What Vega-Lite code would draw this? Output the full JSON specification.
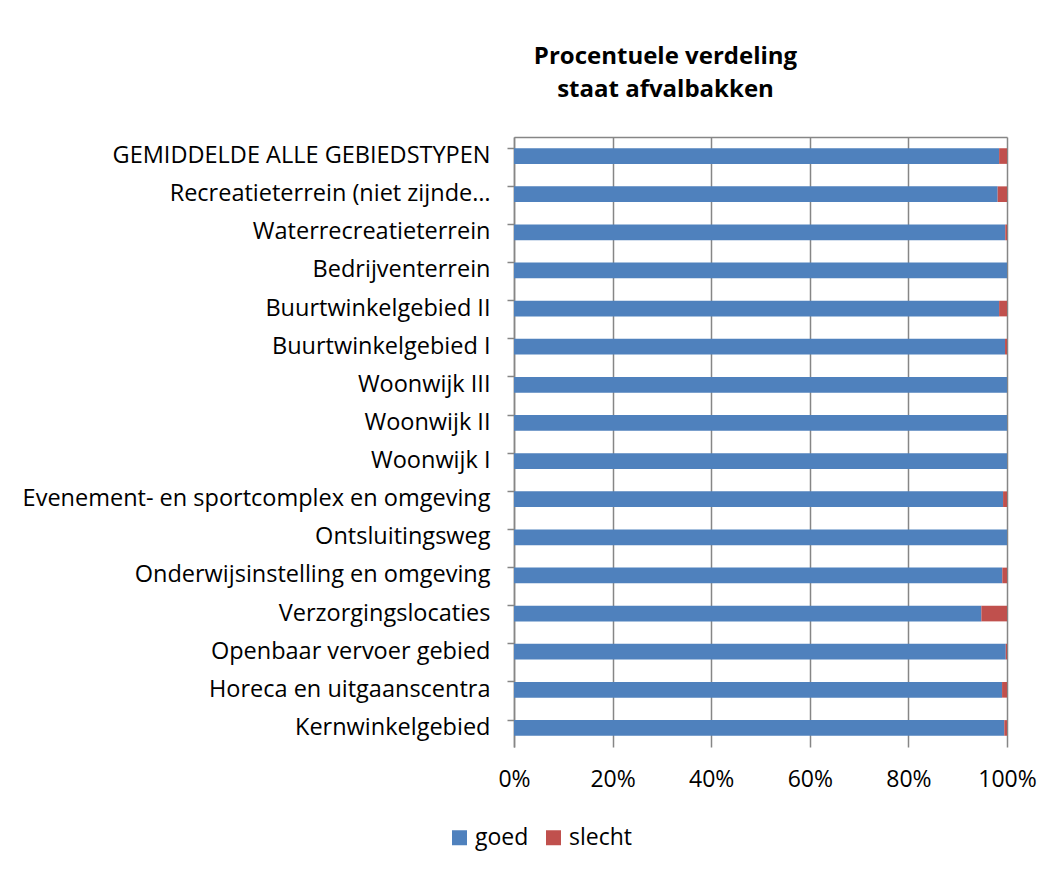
{
  "$schema": "https://vega.github.io/schema/vega-lite/v6.json",
  "width": 493,
  "height": 610,
  "autosize": {"type": "none"},
  "padding": {"left": 514, "top": 137, "right": 46, "bottom": 124},
  "background": "white",
  "title": {
    "text": ["Procentuele verdeling", "staat afvalbakken"],
    "font": "Open Sans",
    "fontSize": 24,
    "fontWeight": "bold",
    "color": "#000000",
    "lineHeight": 33,
    "anchor": "middle",
    "dx": -95,
    "offset": 35
  },
  "data": {
    "values": [
      {"gebied": "GEMIDDELDE ALLE GEBIEDSTYPEN", "staat": "goed", "pct": 98.4},
      {"gebied": "GEMIDDELDE ALLE GEBIEDSTYPEN", "staat": "slecht", "pct": 1.6},
      {"gebied": "Recreatieterrein (niet zijnde…", "staat": "goed", "pct": 98.1},
      {"gebied": "Recreatieterrein (niet zijnde…", "staat": "slecht", "pct": 1.9},
      {"gebied": "Waterrecreatieterrein", "staat": "goed", "pct": 99.65},
      {"gebied": "Waterrecreatieterrein", "staat": "slecht", "pct": 0.35},
      {"gebied": "Bedrijventerrein", "staat": "goed", "pct": 100},
      {"gebied": "Bedrijventerrein", "staat": "slecht", "pct": 0},
      {"gebied": "Buurtwinkelgebied II", "staat": "goed", "pct": 98.4},
      {"gebied": "Buurtwinkelgebied II", "staat": "slecht", "pct": 1.6},
      {"gebied": "Buurtwinkelgebied I", "staat": "goed", "pct": 99.6},
      {"gebied": "Buurtwinkelgebied I", "staat": "slecht", "pct": 0.4},
      {"gebied": "Woonwijk III", "staat": "goed", "pct": 100},
      {"gebied": "Woonwijk III", "staat": "slecht", "pct": 0},
      {"gebied": "Woonwijk II", "staat": "goed", "pct": 100},
      {"gebied": "Woonwijk II", "staat": "slecht", "pct": 0},
      {"gebied": "Woonwijk I", "staat": "goed", "pct": 100},
      {"gebied": "Woonwijk I", "staat": "slecht", "pct": 0},
      {"gebied": "Evenement- en sportcomplex en omgeving", "staat": "goed", "pct": 99.2},
      {"gebied": "Evenement- en sportcomplex en omgeving", "staat": "slecht", "pct": 0.8},
      {"gebied": "Ontsluitingsweg", "staat": "goed", "pct": 100},
      {"gebied": "Ontsluitingsweg", "staat": "slecht", "pct": 0},
      {"gebied": "Onderwijsinstelling en omgeving", "staat": "goed", "pct": 99.05},
      {"gebied": "Onderwijsinstelling en omgeving", "staat": "slecht", "pct": 0.95},
      {"gebied": "Verzorgingslocaties", "staat": "goed", "pct": 94.8},
      {"gebied": "Verzorgingslocaties", "staat": "slecht", "pct": 5.2},
      {"gebied": "Openbaar vervoer gebied", "staat": "goed", "pct": 99.75},
      {"gebied": "Openbaar vervoer gebied", "staat": "slecht", "pct": 0.25},
      {"gebied": "Horeca en uitgaanscentra", "staat": "goed", "pct": 99.0},
      {"gebied": "Horeca en uitgaanscentra", "staat": "slecht", "pct": 1.0},
      {"gebied": "Kernwinkelgebied", "staat": "goed", "pct": 99.45},
      {"gebied": "Kernwinkelgebied", "staat": "slecht", "pct": 0.55}
    ]
  },
  "layer": [
    {
      "mark": {"type": "bar"},
      "encoding": {
        "y": {
          "field": "gebied",
          "type": "nominal",
          "sort": null,
          "scale": {"paddingInner": 0.59, "paddingOuter": 0.295},
          "axis": {
            "title": null,
            "labelFont": "Open Sans",
            "labelFontSize": 23.5,
            "labelColor": "#000000",
            "labelLimit": 0,
            "labelPadding": 17,
            "tickSize": 7,
            "tickColor": "#868686",
            "tickWidth": 1.5,
            "bandPosition": 0,
            "domainColor": "#868686",
            "domainWidth": 1.5,
            "grid": false
          }
        },
        "x": {
          "field": "pct",
          "type": "quantitative",
          "stack": "normalize",
          "scale": {"domain": [0, 1], "nice": false},
          "axis": {
            "title": null,
            "format": ".0%",
            "values": [0, 0.2, 0.4, 0.6, 0.8, 1],
            "labelFont": "Open Sans",
            "labelFontSize": 23,
            "labelColor": "#000000",
            "labelPadding": 21,
            "labelFlush": false,
            "labelOverlap": false,
            "ticks": false,
            "tickSize": 0,
            "domain": false,
            "grid": true,
            "gridColor": "#868686",
            "gridWidth": 1.5,
            "gridOpacity": 1
          }
        },
        "color": {
          "field": "staat",
          "type": "nominal",
          "scale": {"domain": ["goed", "slecht"], "range": ["#4F81BD", "#C0504D"]},
          "legend": {
            "title": null,
            "orient": "none",
            "direction": "horizontal",
            "legendX": -66,
            "legendY": 689,
            "symbolType": "square",
            "symbolSize": 225,
            "symbolStrokeWidth": 0,
            "symbolOpacity": 1,
            "labelFont": "Open Sans",
            "labelFontSize": 23,
            "labelColor": "#000000",
            "labelOffset": 4,
            "columnPadding": 13
          }
        }
      }
    },
    {
      "mark": {"type": "bar", "opacity": 0},
      "encoding": {
        "y": {"field": "gebied", "type": "nominal", "sort": null},
        "x": {
          "field": "pct",
          "type": "quantitative",
          "stack": "normalize",
          "axis": {
            "orient": "top",
            "title": null,
            "labels": false,
            "ticks": false,
            "grid": false,
            "domain": true,
            "domainColor": "#868686",
            "domainWidth": 1.5
          }
        }
      }
    }
  ],
  "resolve": {"axis": {"x": "independent"}},
  "config": {
    "view": {"stroke": null}
  }
}
